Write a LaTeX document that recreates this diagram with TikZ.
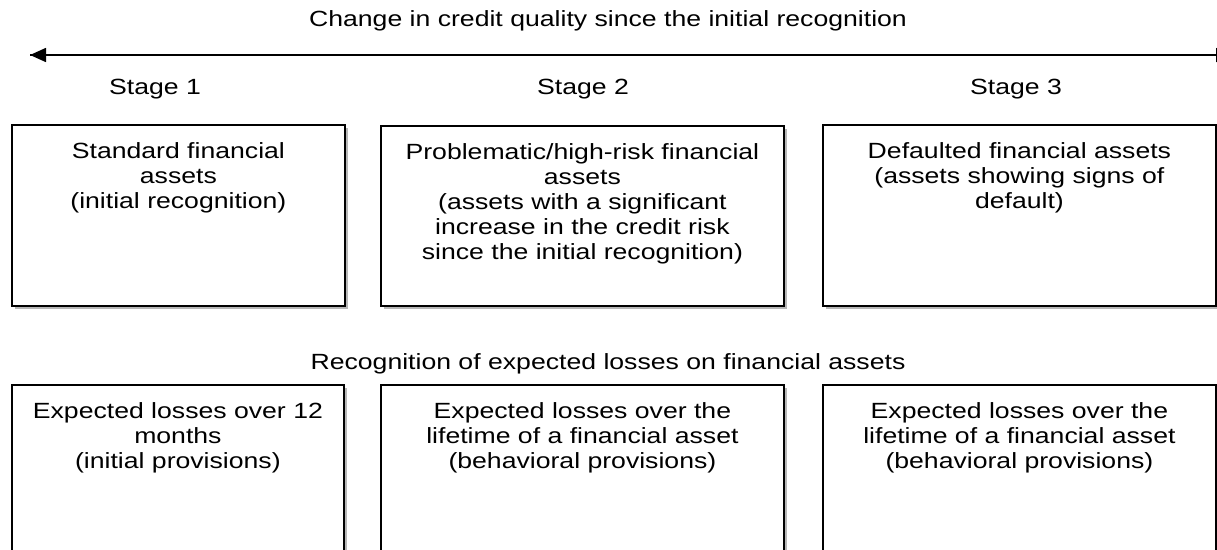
\documentclass[tikz,border=0pt]{standalone}
\usepackage{fontspec}
\setmainfont{Liberation Sans}[FakeStretch=1.21]
\usetikzlibrary{arrows.meta,shadows}
\tikzset{
  txt/.style={font=\fontsize{22}{25}\selectfont, inner sep=0pt, align=center},
  box/.style={draw=black, line width=1.8pt, fill=white, rectangle, anchor=north west, inner sep=0pt,
    drop shadow={shadow xshift=3.5pt, shadow yshift=-3.5pt, fill=black!40, opacity=0.7}},
  boxtxt/.style={txt, anchor=north, yshift=-18.5pt},
  axis/.style={line width=1.6pt, -{Triangle[length=16pt,width=14pt]}}
}
\begin{document}
\begin{tikzpicture}[x=1pt,y=-1pt]
\path[use as bounding box, clip] (0,0) rectangle (1217,549);
\fill[white] (0,0) rectangle (1217,549);
% axis
\coordinate (aR) at (1232,55);
\coordinate (aL) at (30,55);
\draw[axis] (aR) -- (aL);
\draw[axis] (aL) -- (aR);
\node[txt] (title) at (608,21) {Change in credit quality since the initial recognition};
\node[txt] (s1) at (155,89) {Stage 1};
\node[txt] (s2) at (583,89) {Stage 2};
\node[txt] (s3) at (1016,89) {Stage 3};
% top boxes
\node[box, minimum width=333pt, minimum height=181pt] (b1) at (11,124) {};
\node[box, minimum width=403pt, minimum height=180pt] (b2) at (380,125) {};
\node[box, minimum width=393pt, minimum height=181pt] (b3) at (822,124) {};
\node[boxtxt] (t1) at (b1.north) {Standard financial\\assets\\(initial recognition)};
\node[boxtxt] (t2) at (b2.north) {Problematic/high-risk financial\\assets\\(assets with a significant\\increase in the credit risk\\since the initial recognition)};
\node[boxtxt] (t3) at (b3.north) {Defaulted financial assets\\(assets showing signs of\\default)};
\node[txt] (rec) at (608,364) {Recognition of expected losses on financial assets};
% bottom boxes
\node[box, minimum width=332pt, minimum height=200pt] (c1) at (11,384) {};
\node[box, minimum width=403pt, minimum height=200pt] (c2) at (380,384) {};
\node[box, minimum width=393pt, minimum height=200pt] (c3) at (822,384) {};
\node[boxtxt] (u1) at (c1.north) {Expected losses over 12\\months\\(initial provisions)};
\node[boxtxt] (u2) at (c2.north) {Expected losses over the\\lifetime of a financial asset\\(behavioral provisions)};
\node[boxtxt] (u3) at (c3.north) {Expected losses over the\\lifetime of a financial asset\\(behavioral provisions)};
\end{tikzpicture}
\end{document}
